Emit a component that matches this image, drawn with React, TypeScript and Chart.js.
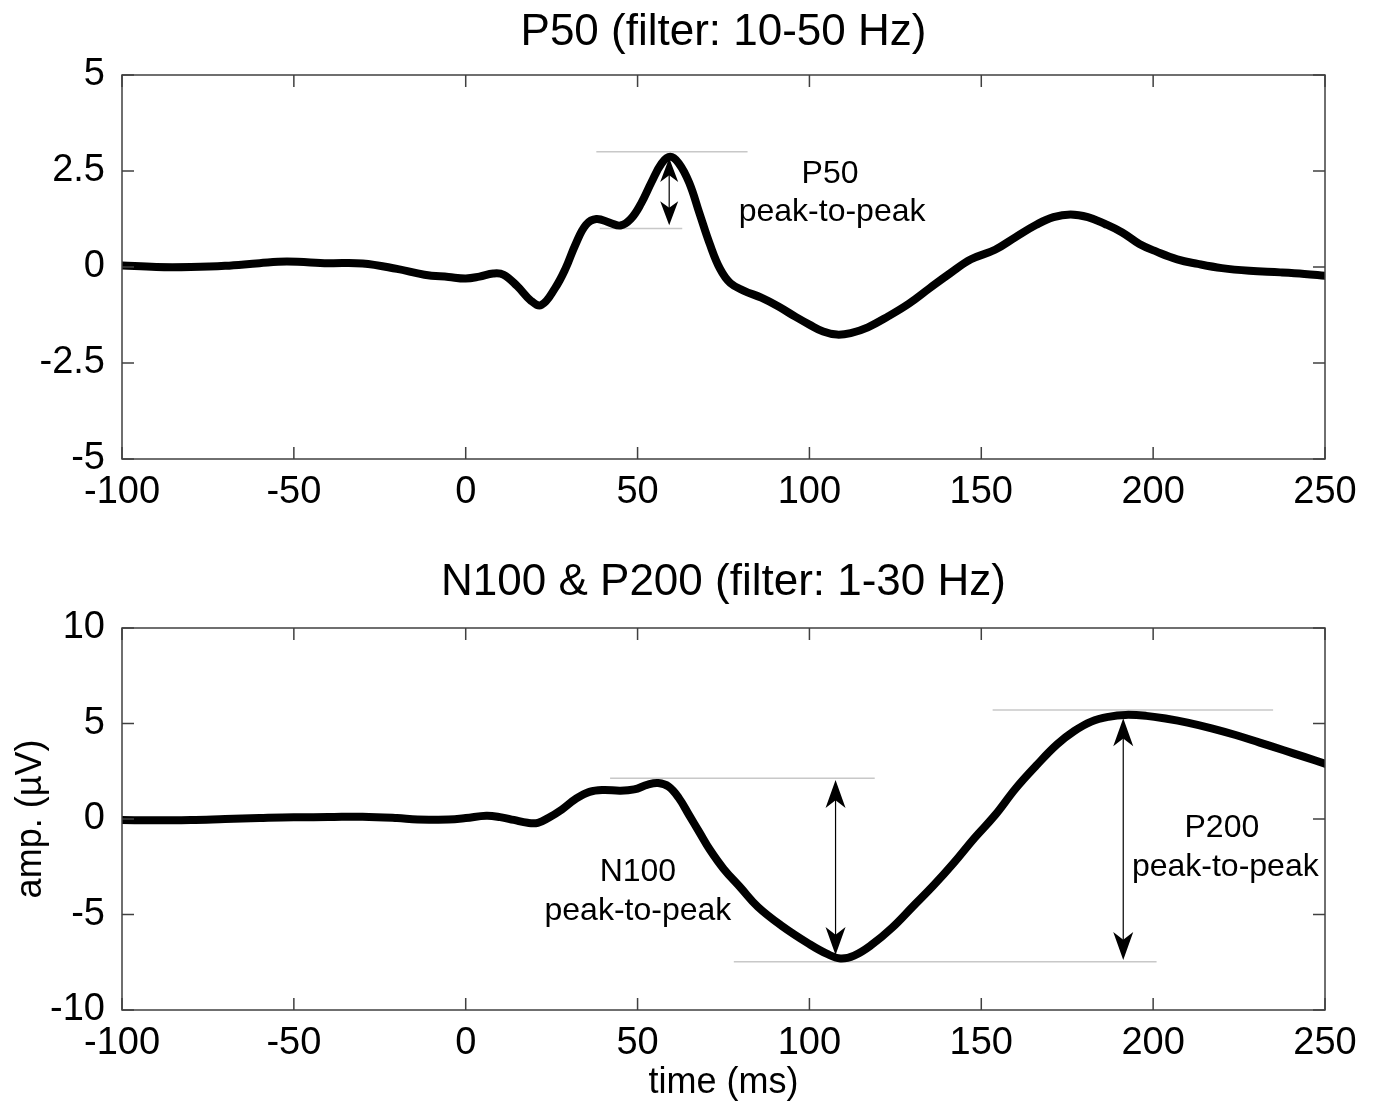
import React, { useEffect, useRef } from "react";
import { Chart, registerables } from "chart.js";

Chart.register(...registerables);

// ---------- data ----------
const xTicks = [-100, -50, 0, 50, 100, 150, 200, 250];
const p50YTicks = [-5, -2.5, 0, 2.5, 5];
const n1p2YTicks = [-10, -5, 0, 5, 10];

const p50Time = [-100, -90, -80, -70, -60, -52, -40, -30, -20, -12, -5, 0, 4, 8, 11, 15, 19, 22, 26, 29, 32, 35, 38, 42, 45, 48, 51, 54, 57, 59.5, 62, 65, 68, 71, 74, 77, 81, 86, 91, 96, 100, 104, 108, 112, 117, 123, 129, 135, 141, 147, 154, 160, 166, 171, 176, 181, 186, 191, 196, 201, 207, 213, 220, 228, 237, 244, 250];
const p50Amp = [0.04, 0.0, 0.0, 0.03, 0.1, 0.14, 0.1, 0.09, -0.05, -0.2, -0.26, -0.3, -0.25, -0.17, -0.2, -0.5, -0.88, -0.99, -0.55, -0.05, 0.6, 1.1, 1.25, 1.15, 1.08, 1.25, 1.65, 2.2, 2.7, 2.87, 2.7, 2.2, 1.4, 0.6, -0.05, -0.42, -0.62, -0.8, -1.03, -1.3, -1.5, -1.68, -1.76, -1.72, -1.57, -1.28, -0.95, -0.55, -0.16, 0.2, 0.45, 0.78, 1.1, 1.3, 1.37, 1.3, 1.12, 0.9, 0.6, 0.4, 0.2, 0.08, -0.03, -0.1, -0.14, -0.18, -0.23];

const n1p2Time = [-100, -90, -80, -70, -60, -50, -40, -30, -20, -14, -5, 0, 6, 10, 14, 18, 21, 24, 28, 32, 36, 40, 45, 49, 53, 56, 59, 62, 65, 68, 71, 75, 80, 85, 92, 100, 105, 109, 113, 118, 124, 130, 136, 142, 148, 154, 160, 166, 172, 177, 182, 187, 192, 198, 204, 210, 217, 224, 231, 238, 244, 250];
const n1p2Amp = [-0.05, -0.07, -0.05, 0.0, 0.05, 0.09, 0.1, 0.12, 0.05, -0.03, -0.02, 0.05, 0.17, 0.1, -0.05, -0.2, -0.2, 0.05, 0.5, 1.05, 1.42, 1.52, 1.48, 1.55, 1.8, 1.88, 1.7, 1.1, 0.2, -0.7, -1.6, -2.6, -3.6, -4.6, -5.6, -6.55, -7.05, -7.3, -7.15, -6.6, -5.7, -4.6, -3.5, -2.3, -1.0, 0.2, 1.6, 2.8, 3.9, 4.6, 5.1, 5.35, 5.45, 5.4, 5.25, 5.05, 4.75, 4.4, 4.0, 3.6, 3.25, 2.9];

// guide lines: [xStart, xEnd, y]
const p50Guides = [[38, 82, 3.0], [39, 63, 1.0]];
const n1p2Guides = [[42, 119, 2.13], [78, 201, -7.47], [153.3, 234.9, 5.71]];
// arrows: [x, yTop, yBottom]
const p50Arrows = [[59.2, 2.84, 1.09]];
const n1p2Arrows = [[107.6, 2.04, -7.12], [191.3, 5.27, -7.38]];
// annotation texts: [text, x, y]
const p50Labels: [string, number, number][] = [["P50", 106, 2.42], ["peak-to-peak", 106.6, 1.44]];
const n1p2Labels: [string, number, number][] = [["N100", 50.1, -2.8], ["peak-to-peak", 50.1, -4.8], ["P200", 220, -0.5], ["peak-to-peak", 221, -2.5]];

const FONT = '"Liberation Sans", Arial, Helvetica, sans-serif';

type Cfg = {
  title: string;
  titleY: number;
  time: number[];
  amp: number[];
  yTicks: number[];
  guides: number[][];
  arrows: number[][];
  labels: [string, number, number][];
  headLen: number;
  headHalf: number;
  padTop: number;
  padBottom: number;
  yLabel?: string;
  xLabel?: string;
  xLabelY?: number;
};

function drawHead(ctx: CanvasRenderingContext2D, x: number, tipY: number, dir: number, len: number, half: number) {
  ctx.beginPath();
  ctx.moveTo(x, tipY);
  ctx.lineTo(x - half, tipY + dir * len);
  ctx.lineTo(x, tipY + dir * len * 0.72);
  ctx.lineTo(x + half, tipY + dir * len);
  ctx.closePath();
  ctx.fill();
}

function makeChart(canvas: HTMLCanvasElement, cfg: Cfg) {
  const plugin = {
    id: "matlabDecor" + cfg.title.length,
    beforeDatasetsDraw(chart: any) {
      const ctx = chart.ctx as CanvasRenderingContext2D;
      const xs = chart.scales.x;
      const ys = chart.scales.y;
      ctx.save();
      ctx.strokeStyle = "#c8c8c8";
      ctx.lineWidth = 1.5;
      for (const [a, b, y] of cfg.guides) {
        const py = ys.getPixelForValue(y);
        ctx.beginPath();
        ctx.moveTo(xs.getPixelForValue(a), py);
        ctx.lineTo(xs.getPixelForValue(b), py);
        ctx.stroke();
      }
      ctx.restore();
    },
    afterDraw(chart: any) {
      const ctx = chart.ctx as CanvasRenderingContext2D;
      const xs = chart.scales.x;
      const ys = chart.scales.y;
      const ca = chart.chartArea;
      ctx.save();
      // box
      ctx.strokeStyle = "#404040";
      ctx.lineWidth = 1.5;
      ctx.strokeRect(ca.left, ca.top, ca.right - ca.left, ca.bottom - ca.top);
      // inward ticks on all four sides
      const tl = 12;
      ctx.beginPath();
      for (const t of xTicks) {
        const px = xs.getPixelForValue(t);
        ctx.moveTo(px, ca.bottom);
        ctx.lineTo(px, ca.bottom - tl);
        ctx.moveTo(px, ca.top);
        ctx.lineTo(px, ca.top + tl);
      }
      for (const t of cfg.yTicks) {
        const py = ys.getPixelForValue(t);
        ctx.moveTo(ca.left, py);
        ctx.lineTo(ca.left + tl, py);
        ctx.moveTo(ca.right, py);
        ctx.lineTo(ca.right - tl, py);
      }
      ctx.stroke();
      // arrows
      ctx.strokeStyle = "#000";
      ctx.fillStyle = "#000";
      ctx.lineWidth = 1.2;
      for (const [x, y0, y1] of cfg.arrows) {
        const px = xs.getPixelForValue(x);
        const p0 = ys.getPixelForValue(y0);
        const p1 = ys.getPixelForValue(y1);
        ctx.beginPath();
        ctx.moveTo(px, p0 + 4);
        ctx.lineTo(px, p1 - 4);
        ctx.stroke();
        drawHead(ctx, px, p0, 1, cfg.headLen, cfg.headHalf);
        drawHead(ctx, px, p1, -1, cfg.headLen, cfg.headHalf);
      }
      // annotation text
      ctx.fillStyle = "#000";
      ctx.textAlign = "center";
      ctx.textBaseline = "middle";
      ctx.font = `32px ${FONT}`;
      for (const [s, x, y] of cfg.labels) {
        ctx.fillText(s, xs.getPixelForValue(x), ys.getPixelForValue(y));
      }
      // title
      ctx.font = `44px ${FONT}`;
      ctx.fillText(cfg.title, (ca.left + ca.right) / 2, cfg.titleY);
      // axis labels
      if (cfg.xLabel) {
        ctx.font = `36px ${FONT}`;
        ctx.fillText(cfg.xLabel, (ca.left + ca.right) / 2, cfg.xLabelY || 0);
      }
      if (cfg.yLabel) {
        ctx.font = `36px ${FONT}`;
        ctx.translate(31, (ca.top + ca.bottom) / 2);
        ctx.rotate(-Math.PI / 2);
        ctx.fillText(cfg.yLabel, 0, 0);
      }
      ctx.restore();
    },
  };

  const yMin = cfg.yTicks[0];
  const yMax = cfg.yTicks[cfg.yTicks.length - 1];
  const yStep = cfg.yTicks[1] - cfg.yTicks[0];

  return new Chart(canvas, {
    type: "line",
    data: {
      datasets: [
        {
          data: cfg.time.map((t, i) => ({ x: t, y: cfg.amp[i] })),
          borderColor: "#000",
          borderWidth: 8,
          pointRadius: 0,
          tension: 0.4,
          borderCapStyle: "round",
          borderJoinStyle: "round",
          fill: false,
        },
      ],
    },
    options: {
      animation: false,
      responsive: false,
      devicePixelRatio: 1,
      events: [],
      layout: { padding: { top: cfg.padTop, left: 0, right: 49, bottom: cfg.padBottom } },
      plugins: { legend: { display: false }, tooltip: { enabled: false }, title: { display: false } },
      scales: {
        x: {
          type: "linear",
          min: xTicks[0],
          max: xTicks[xTicks.length - 1],
          grid: { display: false },
          border: { display: false },
          afterFit: (s: any) => { s.height = 60; },
          afterBuildTicks: (s: any) => { s.ticks = xTicks.map((v) => ({ value: v })); },
          ticks: {
            color: "#000",
            font: { family: FONT, size: 38 },
            padding: 3,
            maxRotation: 0,
            autoSkip: false,
            callback: (v: any) => `${v}`,
          },
        },
        y: {
          type: "linear",
          min: yMin,
          max: yMax,
          grid: { display: false },
          border: { display: false },
          afterFit: (s: any) => { s.width = 122; },
          ticks: {
            stepSize: yStep,
            color: "#000",
            font: { family: FONT, size: 38 },
            padding: 9,
            callback: (v: any) => `${v}`,
          },
        },
      },
    },
    plugins: [plugin],
  } as any);
}

export default function App() {
  const c1 = useRef<HTMLCanvasElement>(null);
  const c2 = useRef<HTMLCanvasElement>(null);

  useEffect(() => {
    const ch1 = makeChart(c1.current!, {
      title: "P50 (filter: 10-50 Hz)",
      titleY: 33,
      time: p50Time,
      amp: p50Amp,
      yTicks: p50YTicks,
      guides: p50Guides,
      arrows: p50Arrows,
      labels: p50Labels,
      headLen: 24,
      headHalf: 9,
      padTop: 75,
      padBottom: 540 - 459 - 60,
    });
    const ch2 = makeChart(c2.current!, {
      title: "N100 & P200 (filter: 1-30 Hz)",
      titleY: 43,
      time: n1p2Time,
      amp: n1p2Amp,
      yTicks: n1p2YTicks,
      guides: n1p2Guides,
      arrows: n1p2Arrows,
      labels: n1p2Labels,
      headLen: 28,
      headHalf: 10,
      padTop: 88,
      padBottom: 564 - 470 - 60,
      yLabel: "amp. (µV)",
      xLabel: "time (ms)",
      xLabelY: 543,
    });
    return () => {
      ch1.destroy();
      ch2.destroy();
    };
  }, []);

  return (
    <div style={{ position: "absolute", left: 0, top: 0, width: 1374, height: 1104, background: "#fff" }}>
      <canvas ref={c1} width={1374} height={540} style={{ position: "absolute", left: 0, top: 0, width: 1374, height: 540 }} />
      <canvas ref={c2} width={1374} height={564} style={{ position: "absolute", left: 0, top: 540, width: 1374, height: 564 }} />
    </div>
  );
}
